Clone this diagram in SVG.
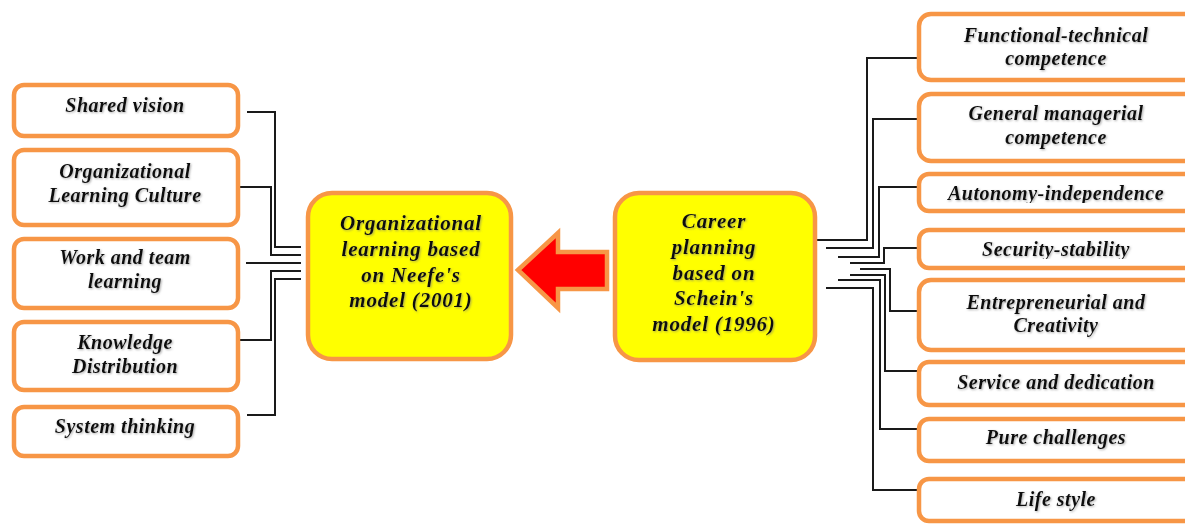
<svg xmlns="http://www.w3.org/2000/svg" width="1185" height="525" viewBox="0 0 1185 525">
<style>
.box{fill:#ffffff;stroke:#F79646;stroke-width:4.5}
.core{fill:#FFFF00;stroke:#F79646;stroke-width:4.5}
.t{font-family:"Liberation Serif","Times New Roman",serif;font-weight:bold;font-style:italic;font-size:20px;letter-spacing:0.5px;fill:#111;text-anchor:middle;filter:url(#sh)}
.tc{font-size:21px;letter-spacing:0.8px}
.c{fill:none;stroke:#1a1a1a;stroke-width:2}
</style>
<defs>
<filter id="sh" x="-10%" y="-30%" width="120%" height="160%">
<feDropShadow dx="1" dy="1" stdDeviation="0.8" flood-color="#777" flood-opacity="0.6"/>
</filter>
<clipPath id="clipA"><rect x="919" y="170" width="300" height="33"/></clipPath>
<clipPath id="clipS"><rect x="919" y="226" width="300" height="33"/></clipPath>
</defs>
<rect width="1185" height="525" fill="#ffffff"/>

<g id="connectors">
<path class="c" d="M247,112 H275 V247 H301"/>
<path class="c" d="M240,187 H271 V255 H301"/>
<path class="c" d="M246,263 H301"/>
<path class="c" d="M240,340 H271 V271 H301"/>
<path class="c" d="M247,415 H275 V279 H301"/>

<path class="c" d="M918,58 H867 V240 H815"/>
<path class="c" d="M918,119 H873 V248 H826"/>
<path class="c" d="M918,187 H879 V257 H838"/>
<path class="c" d="M918,248 H884 V263 H850"/>
<path class="c" d="M918,311 H890 V269 H860"/>
<path class="c" d="M918,371 H885 V275 H850"/>
<path class="c" d="M918,429 H880 V280 H838"/>
<path class="c" d="M918,490 H873 V288 H826"/>
</g>

<g id="arrow">
<polygon points="518,270 558,233 558,252 607,252 607,289 558,289 558,308" fill="#FF0000" stroke="#F79646" stroke-width="4.5" stroke-linejoin="miter"/>
</g>

<g id="org-learning">
<rect class="core" x="308" y="193" width="203" height="166" rx="24"/>
<text class="t tc" x="411" y="230">Organizational</text>
<text class="t tc" x="411" y="256">learning based</text>
<text class="t tc" x="411" y="282">on Neefe's</text>
<text class="t tc" x="411" y="307">model (2001)</text>
</g>

<g id="career-planning">
<rect class="core" x="615" y="193" width="200" height="167" rx="24"/>
<text class="t tc" x="714" y="228">Career</text>
<text class="t tc" x="714" y="254">planning</text>
<text class="t tc" x="714" y="280">based on</text>
<text class="t tc" x="714" y="305">Schein's</text>
<text class="t tc" x="714" y="331">model (1996)</text>
</g>

<g id="shared-vision">
<rect class="box" x="14" y="85" width="224" height="51" rx="10"/>
<text class="t" x="125" y="112">Shared vision</text>
</g>
<g id="org-learning-culture">
<rect class="box" x="14" y="150" width="224" height="75" rx="10"/>
<text class="t" x="125" y="178">Organizational</text>
<text class="t" x="125" y="202">Learning Culture</text>
</g>
<g id="work-team-learning">
<rect class="box" x="14" y="239" width="224" height="69" rx="10"/>
<text class="t" x="125" y="264">Work and team</text>
<text class="t" x="125" y="288">learning</text>
</g>
<g id="knowledge-distribution">
<rect class="box" x="14" y="322" width="224" height="68" rx="10"/>
<text class="t" x="125" y="349">Knowledge</text>
<text class="t" x="125" y="373">Distribution</text>
</g>
<g id="system-thinking">
<rect class="box" x="14" y="407" width="224" height="49" rx="10"/>
<text class="t" x="125" y="433">System thinking</text>
</g>

<g id="functional-technical">
<rect class="box" x="919" y="14" width="300" height="66" rx="12"/>
<text class="t" x="1056" y="42">Functional-technical</text>
<text class="t" x="1056" y="65">competence</text>
</g>
<g id="general-managerial">
<rect class="box" x="919" y="94" width="300" height="67" rx="12"/>
<text class="t" x="1056" y="120">General managerial</text>
<text class="t" x="1056" y="144">competence</text>
</g>
<g id="autonomy-independence">
<rect class="box" x="919" y="174" width="300" height="37" rx="10"/>
<g clip-path="url(#clipA)"><text class="t" x="1056" y="200">Autonomy-independence</text></g>
</g>
<g id="security-stability">
<rect class="box" x="919" y="230" width="300" height="38" rx="10"/>
<g clip-path="url(#clipS)"><text class="t" x="1056" y="256">Security-stability</text></g>
</g>
<g id="entrepreneurial-creativity">
<rect class="box" x="919" y="280" width="300" height="70" rx="12"/>
<text class="t" x="1056" y="309">Entrepreneurial and</text>
<text class="t" x="1056" y="332">Creativity</text>
</g>
<g id="service-dedication">
<rect class="box" x="919" y="362" width="300" height="43" rx="10"/>
<text class="t" x="1056" y="389">Service and dedication</text>
</g>
<g id="pure-challenges">
<rect class="box" x="919" y="419" width="300" height="42" rx="10"/>
<text class="t" x="1056" y="444">Pure challenges</text>
</g>
<g id="life-style">
<rect class="box" x="919" y="479" width="300" height="42" rx="10"/>
<text class="t" x="1056" y="506">Life style</text>
</g>
</svg>
